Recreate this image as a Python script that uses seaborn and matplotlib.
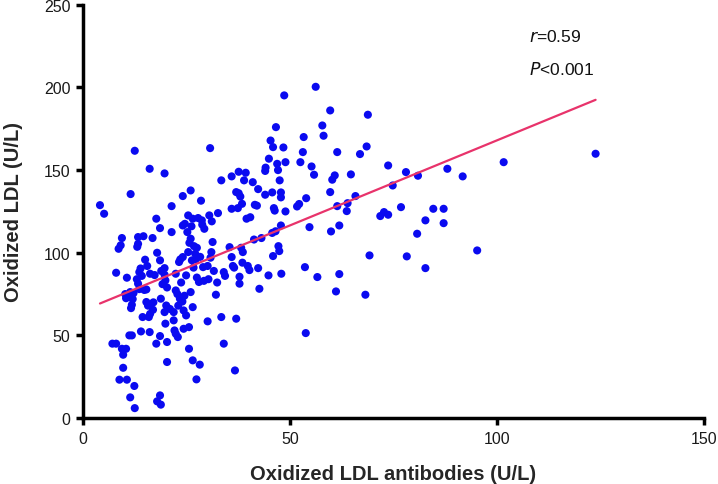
import pandas as pd
import matplotlib.pyplot as plt
import seaborn as sns

# Oxidized LDL antibodies (U/L)
antibodies = [
    4.1, 5.1, 7.1, 8.0, 8.0, 8.6, 9.1, 9.4, 9.4, 9.7, 9.7, 8.8, 10.6, 10.4, 10.6, 10.4, 10.2,
    11.5, 12.5, 12.4, 11.4, 12.5, 11.2, 11.8, 11.4, 12.2, 11.6, 11.8, 11.0, 12.0, 13.3, 13.3,
    13.1, 13.6, 13.9, 13.3, 13.6, 14.0, 14.4, 14.6, 14.2, 13.0, 14.8,
    15.0, 15.5, 15.3, 15.3, 15.7, 15.9, 16.2, 16.1, 16.1, 16.2, 16.8, 16.9, 17.0, 17.3, 17.7,
    17.7, 17.9, 17.9, 18.6, 18.8, 18.6, 18.8, 18.6, 18.6, 19.7, 19.7, 19.7, 19.9, 19.7, 19.9,
    20.1, 20.3, 20.3, 19.2, 18.9, 20.3,
    21.4, 21.4, 21.9, 21.9, 22.1, 22.4, 22.4, 22.4, 22.8, 23.2, 23.4, 23.0, 24.1, 24.1, 24.1,
    24.3, 24.3, 24.0, 24.9, 24.9, 23.7, 21.0, 22.9, 23.5, 24.6, 24.5,
    25.2, 25.4, 25.4, 25.6, 25.6, 26.0, 26.0, 26.0, 26.3, 26.5, 26.5, 26.5, 27.1, 27.4, 27.5,
    26.8, 28.0, 27.5, 28.2, 28.5, 28.7, 29.0, 29.2, 28.8, 29.3, 27.8, 27.2, 26.7, 28.3, 26.2,
    25.7,
    30.1, 30.1, 30.3, 30.5, 30.7, 31.0, 31.3, 31.6, 32.1, 32.4, 32.6, 33.4, 33.4, 34.0, 34.0,
    34.3, 30.8, 31.1,
    35.4, 35.9, 35.9, 35.9, 36.2, 36.7, 37.0, 37.0, 37.4, 37.6, 37.6, 38.0, 37.8, 37.8, 38.2,
    38.4, 38.6, 38.9, 39.3, 39.5, 39.8, 40.2, 40.4, 36.5, 38.5,
    41.0, 41.5, 42.0, 42.3, 42.3, 42.6, 43.1, 44.0, 44.0, 44.1, 44.8, 44.9, 45.3, 41.3,
    45.7, 45.9, 45.9, 45.7, 46.3, 46.1, 46.6, 46.9, 47.1, 47.2, 47.4, 47.5, 47.8, 47.8, 47.8,
    47.9, 48.4, 48.6, 48.9, 48.9, 46.5,
    51.7, 52.2, 52.5, 53.1, 53.3, 53.6, 53.8, 53.9, 54.7, 55.2, 55.8, 56.2, 56.6, 57.8, 58.1,
    59.7, 59.7, 59.9, 60.2, 60.8, 61.1, 61.4, 61.4, 61.9, 61.9, 63.7, 63.9, 64.7, 65.8, 66.9,
    68.2, 68.5, 68.8, 69.2, 71.8, 72.7, 73.7, 73.7, 74.8, 76.8, 78.0, 78.2, 80.7, 80.9, 82.7,
    82.7, 84.6, 87.1, 87.1, 88.0, 91.7, 95.2, 101.6, 123.8,
]

# Oxidized LDL (U/L), same order as above
oxldl = [
    128.8, 123.6, 45.0, 45.0, 87.9, 102.4, 104.5, 108.9, 41.9, 38.3, 30.4, 23.2, 23.2, 41.9, 84.9, 72.5, 75.0,
    135.5, 161.7, 19.4, 12.5, 6.0, 50.0, 50.0, 76.2, 75.6, 66.5, 68.5, 73.5, 72.0, 109.5, 105.4,
    103.6, 88.3, 90.5, 81.3, 78.0, 52.4, 61.1, 110.0, 86.0, 84.0, 77.5,
    95.8, 92.0, 77.8, 70.2, 68.0, 61.1, 63.0, 150.8, 52.0, 87.3, 108.9, 65.5, 70.0, 86.5, 120.6,
    45.0, 100.0, 10.1, 13.7, 8.1, 49.6, 72.2, 95.4, 114.9, 148.0, 86.7, 90.7, 83.3, 64.1, 57.1,
    68.1, 46.0, 33.9, 81.0, 89.0, 79.0,
    128.2, 112.5, 64.1, 59.1, 53.0, 51.0, 87.3, 77.2, 75.0, 94.4, 72.2, 68.0, 134.3, 116.5, 97.4,
    65.1, 54.0, 70.5, 62.1, 86.3, 82.0, 66.0, 49.0, 96.0, 117.5, 74.0,
    112.5, 122.6, 100.4, 41.9, 55.0, 137.7, 108.5, 76.2, 95.4, 34.9, 67.1, 120.6, 99.4, 23.4, 103.0,
    104.0, 82.3, 85.0, 32.3, 131.5, 119.6, 91.3, 83.0, 117.0, 114.5, 121.0, 96.0, 91.0, 97.5, 116.0,
    106.0,
    58.5, 92.0, 84.0, 122.6, 163.3, 100.4, 106.5, 89.0, 74.6, 82.0, 124.0, 143.8, 61.1, 45.0, 88.3,
    86.0, 97.0, 119.0,
    103.4, 126.6, 97.4, 146.2, 92.0, 28.8, 60.1, 136.7, 127.0, 149.0, 136.0, 134.0, 81.3, 85.5, 103.0,
    129.6, 100.4, 143.8, 148.4, 120.6, 92.0, 89.5, 121.5, 91.0, 94.0,
    142.7, 129.0, 128.5, 138.5, 90.7, 78.2, 108.9, 135.1, 149.5, 151.5, 86.3, 156.9, 167.9, 108.0,
    136.5, 163.9, 98.0, 112.0, 125.5, 127.0, 176.0, 153.8, 150.0, 104.0, 101.0, 143.8, 136.5, 133.5, 116.5,
    87.3, 163.7, 195.2, 154.8, 125.0, 113.0,
    128.0, 129.5, 154.8, 160.9, 170.0, 91.3, 51.4, 133.0, 115.5, 152.2, 147.2, 200.4, 85.3, 177.0, 170.8,
    186.1, 136.7, 112.9, 144.2, 146.8, 76.6, 160.9, 128.2, 116.5, 87.1, 125.2, 130.0, 147.4, 134.3, 159.7,
    74.6, 164.3, 183.5, 98.4, 122.2, 124.6, 123.0, 152.8, 140.7, 127.6, 148.8, 97.8, 111.5, 146.6, 119.6,
    90.7, 126.6, 126.6, 117.9, 150.8, 146.2, 101.4, 154.8, 159.9,
]

x_ticks = [0, 50, 100, 150]
y_ticks = [0, 50, 100, 150, 200, 250]
r_text = "=0.59"
p_text = "<0.001"


def plot_scatter(df: pd.DataFrame, output_path: str):
    sns.set_theme(style="ticks")
    plt.rcParams["font.family"] = ["Liberation Sans Narrow", "Liberation Sans", "DejaVu Sans"]

    fig = plt.figure(figsize=(7.18, 4.85), dpi=100)
    ax = fig.add_axes([0.1156, 0.136, 0.865, 0.852])

    sns.scatterplot(
        data=df, x="Antibodies", y="OxLDL", ax=ax,
        color="#0A0AF0", s=34, edgecolor="none", linewidth=0, zorder=3,
    )

    # Regression line (no confidence band)
    sns.regplot(
        data=df, x="Antibodies", y="OxLDL", ax=ax, scatter=False, ci=None,
        line_kws={"color": "#E8336B", "linewidth": 1.6, "zorder": 4},
    )

    ax.set_xlim(0, 150)
    ax.set_ylim(0, 250)
    ax.set_xticks(x_ticks)
    ax.set_yticks(y_ticks)
    ax.tick_params(axis="both", direction="out", length=5, width=2.5,
                   labelsize=11.5, labelcolor="#1a1a1a", color="black", pad=4)
    for side in ["left", "bottom"]:
        ax.spines[side].set_linewidth(2.5)
        ax.spines[side].set_color("black")
    sns.despine(ax=ax)

    ax.set_xlabel("Oxidized LDL antibodies (U/L)", fontsize=14.5, fontweight="bold", labelpad=13)
    ax.set_ylabel("Oxidized LDL (U/L)", fontsize=14.5, fontweight="bold", labelpad=15)

    ax.text(107.8, 231, r"$\it{r}$" + r_text, fontsize=12.5, color="#111111",
            va="center", ha="left")
    ax.text(107.8, 211.5, r"$\it{P}$" + p_text, fontsize=12.5, color="#111111",
            va="center", ha="left")

    fig.savefig(output_path, dpi=100)
    plt.close(fig)


def main():
    df = pd.DataFrame({"Antibodies": antibodies, "OxLDL": oxldl})
    plot_scatter(df, "out.png")


if __name__ == "__main__":
    main()
